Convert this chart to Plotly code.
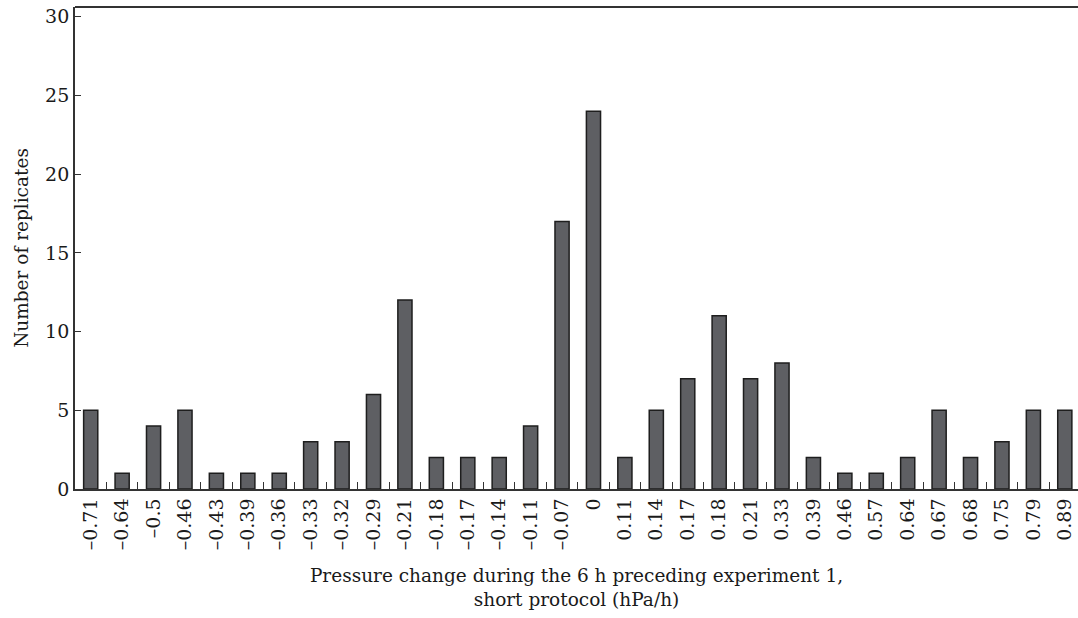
import plotly.graph_objects as go

categories = ["\u20130.71", "\u20130.64", "\u20130.5", "\u20130.46", "\u20130.43", "\u20130.39",
              "\u20130.36", "\u20130.33", "\u20130.32", "\u20130.29", "\u20130.21", "\u20130.18",
              "\u20130.17", "\u20130.14", "\u20130.11", "\u20130.07", "0", "0.11", "0.14", "0.17",
              "0.18", "0.21", "0.33", "0.39", "0.46", "0.57", "0.64", "0.67", "0.68", "0.75",
              "0.79", "0.89"]
replicates = [5, 1, 4, 5, 1, 1, 1, 3, 3, 6, 12, 2, 2, 2, 4, 17, 24, 2, 5, 7, 11, 7, 8, 2, 1, 1,
              2, 5, 2, 3, 5, 5]
y_ticks = [0, 5, 10, 15, 20, 25, 30]

font_family = "DejaVu Serif, Liberation Serif, serif"

fig = go.Figure()
fig.add_trace(go.Bar(
    x=categories, y=replicates,
    marker=dict(color="#5e5f63", line=dict(color="#1e1e1e", width=1.5)),
    width=0.45,
))

fig.update_layout(
    width=1078, height=618,
    margin=dict(l=75, r=0, t=7, b=129),
    paper_bgcolor="white", plot_bgcolor="white",
    showlegend=False,
    font=dict(family=font_family, color="#1a1a1a", size=18),
    xaxis=dict(
        type="category", range=[-0.5, 31.42],
        tickangle=-90, tickson="boundaries", ticks="inside", ticklen=7,
        tickwidth=1.3, tickcolor="#333",
        showline=True, linecolor="#333", linewidth=1.8,
        showgrid=False, zeroline=False,
        tickfont=dict(size=19, family=font_family),
        title=dict(text="Pressure change during the 6 h preceding experiment 1,<br>short protocol (hPa/h)",
                   font=dict(size=18.5, family=font_family), standoff=20),
    ),
    yaxis=dict(
        range=[0, 30.62], tickvals=y_ticks, ticks="inside", ticklen=6,
        tickwidth=1.3, tickcolor="#333",
        showline=True, linecolor="#333", linewidth=1.8,
        showgrid=False, zeroline=False,
        tickfont=dict(size=19, family=font_family),
        title=dict(text="Number of replicates", font=dict(size=18.5, family=font_family), standoff=12),
    ),
    shapes=[dict(type="line", xref="paper", yref="paper", x0=0, x1=1, y0=1, y1=1,
                 line=dict(color="#333", width=2))],
)

fig.write_html("out.html", config={"displayModeBar": False},
               post_script="document.body.style.margin='0';")
